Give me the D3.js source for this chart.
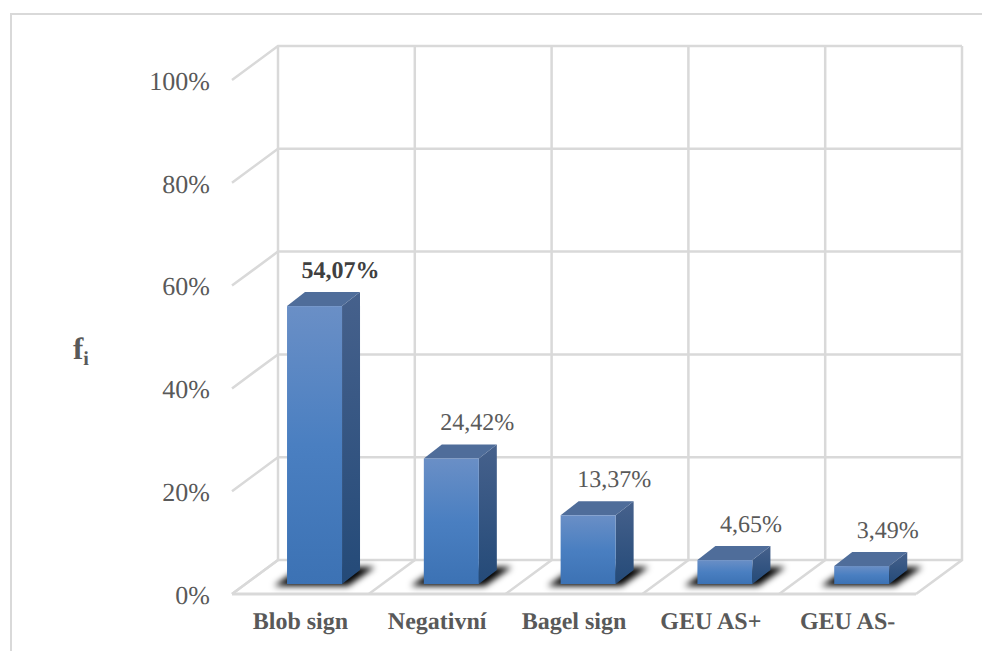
<!DOCTYPE html>
<html>
<head>
<meta charset="utf-8">
<script src="https://cdn.jsdelivr.net/npm/d3@7"></script>
<style>
  html, body { margin: 0; padding: 0; background: #fff; }
  svg { display: block; }
  text { font-family: "Liberation Serif", "Times New Roman", serif; text-rendering: geometricPrecision; }
</style>
</head>
<body>
<svg id="chart" width="982" height="651"></svg>
<script>
const categories = ["Blob sign", "Negativní", "Bagel sign", "GEU AS+", "GEU AS-"];
const shares = [54.07, 24.42, 13.37, 4.65, 3.49];
const shareLabels = ["54,07%", "24,42%", "13,37%", "4,65%", "3,49%"];
const tickValues = [0, 20, 40, 60, 80, 100];

const gridColor = "#d9d9d9";
const textColor = "#595959";

// Oblique projection: the floor runs from the back wall towards the viewer.
const depth = { dx: -46, dy: 34 };
const barDepth = { dx: 18, dy: -14 };
const barPlane = 24 / 34;   // how far the bar fronts sit between wall and floor edge

const svg = d3.select("#chart");
const defs = svg.append("defs");

const y = d3.scaleLinear().domain([0, 100]).range([560, 46]);
const x = d3.scaleBand().domain(categories).range([278, 962]);
const xFront = x.copy().range([278 + depth.dx, 962 + depth.dx]);
const yFront = y.copy().range(y.range().map(d => d + depth.dy));

const barWidth = 55;
const barInset = 41.5;
const barX = c => x(c) + depth.dx * barPlane + barInset;
const barY = v => y(v) + depth.dy * barPlane;

function vGradient(id, stops) {
  const g = defs.append("linearGradient").attr("id", id)
    .attr("x1", 0).attr("y1", 0).attr("x2", 0).attr("y2", 1);
  stops.forEach(([o, c]) => g.append("stop").attr("offset", o).attr("stop-color", c));
}
vGradient("barFront", [[0, "#6a8fc6"], [0.5, "#4a7fc1"], [1, "#3c72b4"]]);
vGradient("barSide", [[0, "#46618c"], [1, "#244a78"]]);
defs.append("filter").attr("id", "soft")
  .attr("x", "-30%").attr("y", "-60%").attr("width", "160%").attr("height", "220%")
  .append("feGaussianBlur").attr("stdDeviation", 3);

// Outer chart frame: only the top and left edges fall inside the canvas.
const frame = svg.append("g").attr("stroke", gridColor).attr("stroke-width", 2).attr("fill", "none");
frame.append("path").attr("d", d3.line()([[982, 14], [11, 14], [11, 651]]));

// Walls and floor
const grid = svg.append("g").attr("stroke", gridColor).attr("stroke-width", 2.5).attr("fill", "none");
const line = d3.line();
const rangeX = x.range();

tickValues.forEach(t => {
  grid.append("path").attr("d", line([
    [rangeX[0] + depth.dx, y(t) + depth.dy], [rangeX[0], y(t)], [rangeX[1], y(t)]
  ]));
});
const edges = categories.map(c => x(c)).concat(rangeX[1]);
edges.forEach(e => {
  grid.append("path").attr("d", line([[e, y(100)], [e, y(0)], [e + depth.dx, y(0) + depth.dy]]));
});
grid.append("path").attr("stroke-width", 3)
  .attr("d", line([[rangeX[0] + depth.dx, y(0) + depth.dy], [rangeX[1] + depth.dx, y(0) + depth.dy]]));

// Bars with their floor shadows
const bars = svg.append("g").selectAll("g")
  .data(categories.map((c, i) => ({ c, v: shares[i], label: shareLabels[i] })))
  .join("g");

bars.append("path")
  .attr("fill", "#000")
  .attr("filter", "url(#soft)")
  .attr("d", d => {
    const l = barX(d.c), r = l + barWidth, b = barY(0);
    return line([[l - 13, b + 2], [r + 6, b + 2], [r + 33, b - 17], [l + 14, b - 17]]) + "Z";
  });

bars.append("path").attr("fill", "url(#barSide)").attr("d", d => {
  const r = barX(d.c) + barWidth, t = barY(d.v), b = barY(0);
  return line([[r, t], [r + barDepth.dx, t + barDepth.dy], [r + barDepth.dx, b + barDepth.dy], [r, b]]) + "Z";
});
bars.append("path").attr("fill", "#4f6d9a").attr("d", d => {
  const l = barX(d.c), r = l + barWidth, t = barY(d.v);
  return line([[l, t], [l + barDepth.dx, t + barDepth.dy], [r + barDepth.dx, t + barDepth.dy], [r, t]]) + "Z";
});
bars.append("rect").attr("fill", "url(#barFront)")
  .attr("x", d => barX(d.c))
  .attr("y", d => barY(d.v))
  .attr("width", barWidth)
  .attr("height", d => barY(0) - barY(d.v));

// Value labels above each bar
bars.append("text")
  .attr("x", d => barX(d.c) + barWidth / 2 + 26)
  .attr("y", d => barY(d.v) + barDepth.dy - 14)
  .attr("text-anchor", "middle")
  .attr("font-size", 24)
  .attr("font-weight", (d, i) => i === 0 ? "bold" : "normal")
  .attr("fill", (d, i) => i === 0 ? "#404040" : textColor)
  .text(d => d.label);

// Value axis along the front edge of the left wall
const yAxis = svg.append("g")
  .attr("transform", `translate(${rangeX[0] + depth.dx - 22},1)`)
  .call(d3.axisLeft(yFront).tickValues(tickValues).tickSize(0).tickPadding(0).tickFormat(d => d + "%"));
yAxis.select(".domain").remove();
yAxis.selectAll("text")
  .attr("font-size", 26)
  .attr("font-family", '"Liberation Serif", serif')
  .attr("fill", textColor);

// Category axis under the floor
const xAxis = svg.append("g")
  .attr("transform", "translate(0,612)")
  .call(d3.axisBottom(xFront).tickSize(0).tickPadding(0));
xAxis.select(".domain").remove();
xAxis.selectAll("text")
  .attr("font-size", 24)
  .attr("font-weight", "bold")
  .attr("font-family", '"Liberation Serif", serif')
  .attr("fill", textColor);

// Axis title: f with subscript i
const title = svg.append("text")
  .attr("x", 73).attr("y", 359)
  .attr("font-size", 31).attr("font-weight", "bold").attr("fill", textColor);
title.append("tspan").text("f");
title.append("tspan").attr("font-size", 20).attr("dy", 6).text("i");
</script>
</body>
</html>
